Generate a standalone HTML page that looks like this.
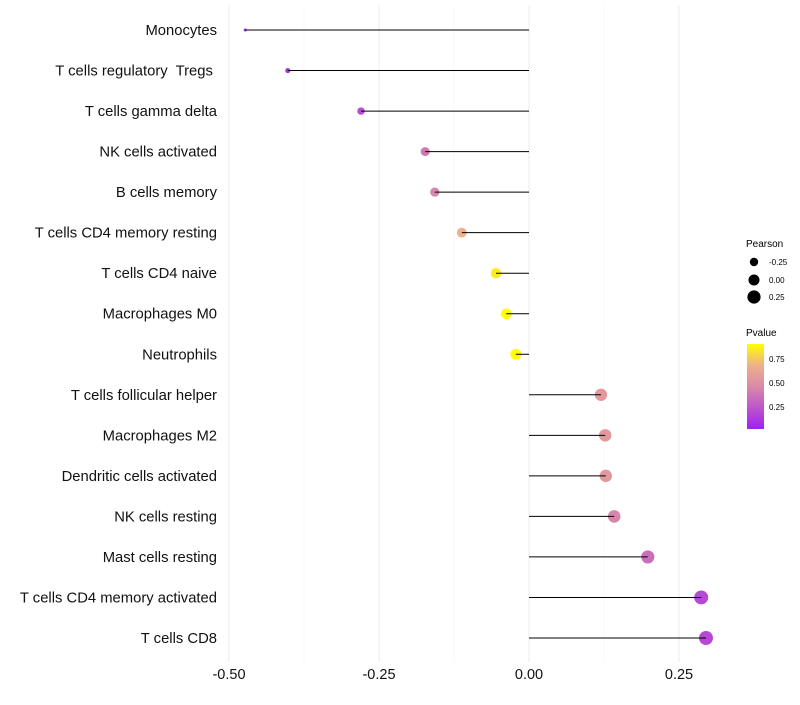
<!DOCTYPE html>
<html><head><meta charset="utf-8"><style>
body{margin:0;background:#fff;font-family:"Liberation Sans",sans-serif}
svg text{font-family:"Liberation Sans",sans-serif;white-space:pre}
</style></head><body>
<svg id="chart" width="800" height="700" xmlns="http://www.w3.org/2000/svg">
<defs><linearGradient id="pg" x1="0" y1="1" x2="0" y2="0">
<stop offset="0" stop-color="#a020f0"/><stop offset="0.5" stop-color="#d98aa8"/><stop offset="0.75" stop-color="#eeb08a"/><stop offset="1" stop-color="#ffff00"/></linearGradient></defs>
<g id="grid"></g>
<g id="marks"></g>
<g id="axes"></g>
<g>
<text x="746" y="247" font-size="10">Pearson</text>
<circle cx="754" cy="262" r="4.2" fill="#000"/>
<text x="769" y="265" font-size="8">-0.25</text>
<circle cx="754" cy="280" r="5.5" fill="#000"/>
<text x="769" y="283" font-size="8">0.00</text>
<circle cx="754" cy="297" r="6.6" fill="#000"/>
<text x="769" y="300" font-size="8">0.25</text>
</g>
<g>
<text x="746" y="336" font-size="10">Pvalue</text>
<rect x="747" y="344" width="17" height="85" fill="url(#pg)"/>
<text x="769" y="362" font-size="8">0.75</text>
<text x="769" y="386" font-size="8">0.50</text>
<text x="769" y="410" font-size="8">0.25</text>
</g>
</svg>
<script>
const categories=["Monocytes","T cells regulatory  Tregs ","T cells gamma delta","NK cells activated","B cells memory","T cells CD4 memory resting","T cells CD4 naive","Macrophages M0","Neutrophils","T cells follicular helper","Macrophages M2","Dendritic cells activated","NK cells resting","Mast cells resting","T cells CD4 memory activated","T cells CD8"];
const pearson=[-0.473,-0.402,-0.28,-0.173,-0.157,-0.112,-0.055,-0.038,-0.022,0.12,0.127,0.128,0.142,0.198,0.287,0.295];
const pvalue=[0.05,0.1,0.22,0.4,0.45,0.68,0.85,0.9,0.95,0.55,0.55,0.55,0.45,0.35,0.2,0.2];
const xTicks=[-0.5,-0.25,0,0.25];
const xTickLabels=["-0.50","-0.25","0.00","0.25"];
const NS="http://www.w3.org/2000/svg";
const x=v=>529+v*600;
const y=i=>30+i*(608/15);
const pmin=Math.min(...pearson),pmax=Math.max(...pearson);
const rad=v=>{const t=(v-pmin)/(pmax-pmin);return Math.sqrt(2.25+(49-2.25)*t);};
function lerp(a,b,t){return a.map((c,i)=>Math.round(c+(b[i]-c)*t));}
const stops=[[0,[160,32,240]],[0.5,[217,138,168]],[0.75,[238,176,138]],[1,[255,255,0]]];
function col(p){const t=Math.max(0,Math.min(1,(p-0.03)/0.87));for(let k=1;k<stops.length;k++){if(t<=stops[k][0]){const s=stops[k-1],e=stops[k];const c=lerp(s[1],e[1],(t-s[0])/(e[0]-s[0]));return `rgb(${c})`;}}return "rgb(255,255,0)";}
function mk(tag,attrs,parent){const e=document.createElementNS(NS,tag);for(const k in attrs)e.setAttribute(k,attrs[k]);document.getElementById(parent).appendChild(e);return e;}
[-0.375,-0.125,0.125].forEach(v=>{const l=mk('line',{x1:x(v),x2:x(v),y1:5,y2:662,stroke:'#f4f4f4','stroke-width':0.6},'grid');

});
xTicks.forEach((v,i)=>{const l=mk('line',{x1:x(v),x2:x(v),y1:5,y2:662,stroke:'#ebebeb','stroke-width':1},'grid');


const t=mk('text',{x:x(v),y:679,'font-size':14.5,'text-anchor':'middle',fill:'#111'},'axes');t.textContent=xTickLabels[i];

});
categories.forEach((c,i)=>{
const t=mk('text',{x:217,y:y(i)+5,'font-size':14.8,'text-anchor':'end',fill:'#111'},'axes');t.textContent=c;


const d=mk('circle',{cx:x(pearson[i]),cy:y(i),r:rad(pearson[i]),fill:col(pvalue[i])},'marks');


const s=mk('line',{x1:x(0),x2:x(pearson[i]),y1:y(i),y2:y(i),stroke:'#000','stroke-width':1},'marks');


});
</script>
</body></html>
